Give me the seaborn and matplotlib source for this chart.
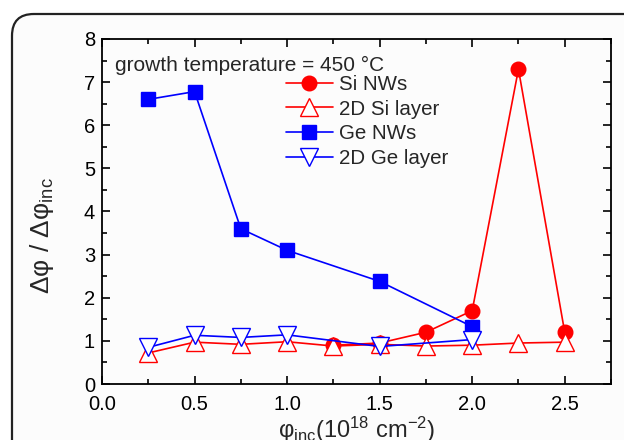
import numpy as np
import pandas as pd
import seaborn as sns
import matplotlib.pyplot as plt
from matplotlib.patches import FancyBboxPatch
from matplotlib.ticker import MultipleLocator

# values
si_nw_x = [1.25, 1.5, 1.75, 2.0, 2.25, 2.5]
si_nw_y = [0.9, 0.95, 1.2, 1.7, 7.3, 1.2]

si_2d_x = [0.25, 0.5, 0.75, 1.0, 1.25, 1.5, 1.75, 2.0, 2.25, 2.5]
si_2d_y = [0.72, 0.97, 0.92, 0.98, 0.88, 0.92, 0.88, 0.9, 0.95, 0.97]

ge_nw_x = [0.25, 0.5, 0.75, 1.0, 1.5, 2.0]
ge_nw_y = [6.6, 6.78, 3.6, 3.1, 2.38, 1.33]

ge_2d_x = [0.25, 0.5, 0.75, 1.0, 1.5, 2.0]
ge_2d_y = [0.85, 1.13, 1.08, 1.14, 0.87, 1.03]

x_ticks = [0.0, 0.5, 1.0, 1.5, 2.0, 2.5]
y_ticks = [0, 1, 2, 3, 4, 5, 6, 7, 8]

sns.set_theme(style="ticks")
plt.rcParams["font.family"] = ["Liberation Sans", "DejaVu Sans"]
plt.rcParams["mathtext.fontset"] = "custom"
plt.rcParams["mathtext.rm"] = "Liberation Sans"
plt.rcParams["mathtext.it"] = "Liberation Sans:italic"

fig = plt.figure(figsize=(6.24, 4.4), dpi=100, facecolor="white")

# rounded frame around the panel (runs off the right and bottom edges)
frame = FancyBboxPatch(
    (12 / 624, -0.3), 1.2, 0.3 + (440 - 14) / 440,
    boxstyle="round,pad=0,rounding_size=0.035",
    transform=fig.transFigure, facecolor="#fcfcfc", edgecolor="#222222",
    linewidth=1.6, mutation_aspect=624 / 440, zorder=-5,
)
fig.patches.append(frame)

ax = fig.add_axes([102 / 624, 56 / 440, 509 / 624, 345 / 440])
ax.set_facecolor("none")

series = [
    (si_nw_x, si_nw_y, "Si NWs", "red", "o", "red", 10.5),
    (si_2d_x, si_2d_y, "2D Si layer", "red", "^", "white", 12.5),
    (ge_nw_x, ge_nw_y, "Ge NWs", "blue", "s", "blue", 10),
    (ge_2d_x, ge_2d_y, "2D Ge layer", "blue", "v", "white", 12.5),
]
for xs, ys, name, col, mk, face, ms in series:
    sns.lineplot(
        x=xs, y=ys, ax=ax, color=col, marker=mk, markersize=ms,
        markerfacecolor=face, markeredgecolor=col, markeredgewidth=1.0,
        linewidth=1.2, label=name, sort=False,
    )

ax.set_xlim(0, 2.75)
ax.set_ylim(0, 8)
ax.set_xticks(x_ticks)
ax.set_xticklabels([f"{t:.1f}" for t in x_ticks])
ax.set_yticks(y_ticks)
ax.xaxis.set_minor_locator(MultipleLocator(0.25))
ax.yaxis.set_minor_locator(MultipleLocator(0.5))
ax.tick_params(which="both", direction="in", top=True, right=True,
               labelsize=14.5, colors="black", width=1.2)
ax.tick_params(which="major", length=6)
ax.tick_params(which="minor", length=3.5)
ax.tick_params(axis="x", pad=8)
ax.tick_params(axis="y", pad=5)
for s in ax.spines.values():
    s.set_linewidth(1.3)
    s.set_color("black")

ax.set_ylabel(r"$\Delta$φ / $\Delta$φ$_{\mathrm{inc}}$", fontsize=19)
ax.yaxis.set_label_coords(-0.09, 0.43, transform=ax.transAxes)
ax.set_xlabel(r"φ$_{\mathrm{inc}}$(10$^{18}$ cm$^{-2}$)", fontsize=17)
ax.xaxis.set_label_coords(0.5, -0.088, transform=ax.transAxes)

ax.text(0.026, 0.95, "growth temperature = 450 °C", transform=ax.transAxes,
        fontsize=15, va="top", ha="left")

ax.legend(loc="upper left", bbox_to_anchor=(0.345, 0.92), frameon=False,
          fontsize=14.8, handlelength=2.3, handletextpad=0.3, labelspacing=0.28,
          borderaxespad=0)

fig.savefig("out.png", dpi=100, facecolor="white")
